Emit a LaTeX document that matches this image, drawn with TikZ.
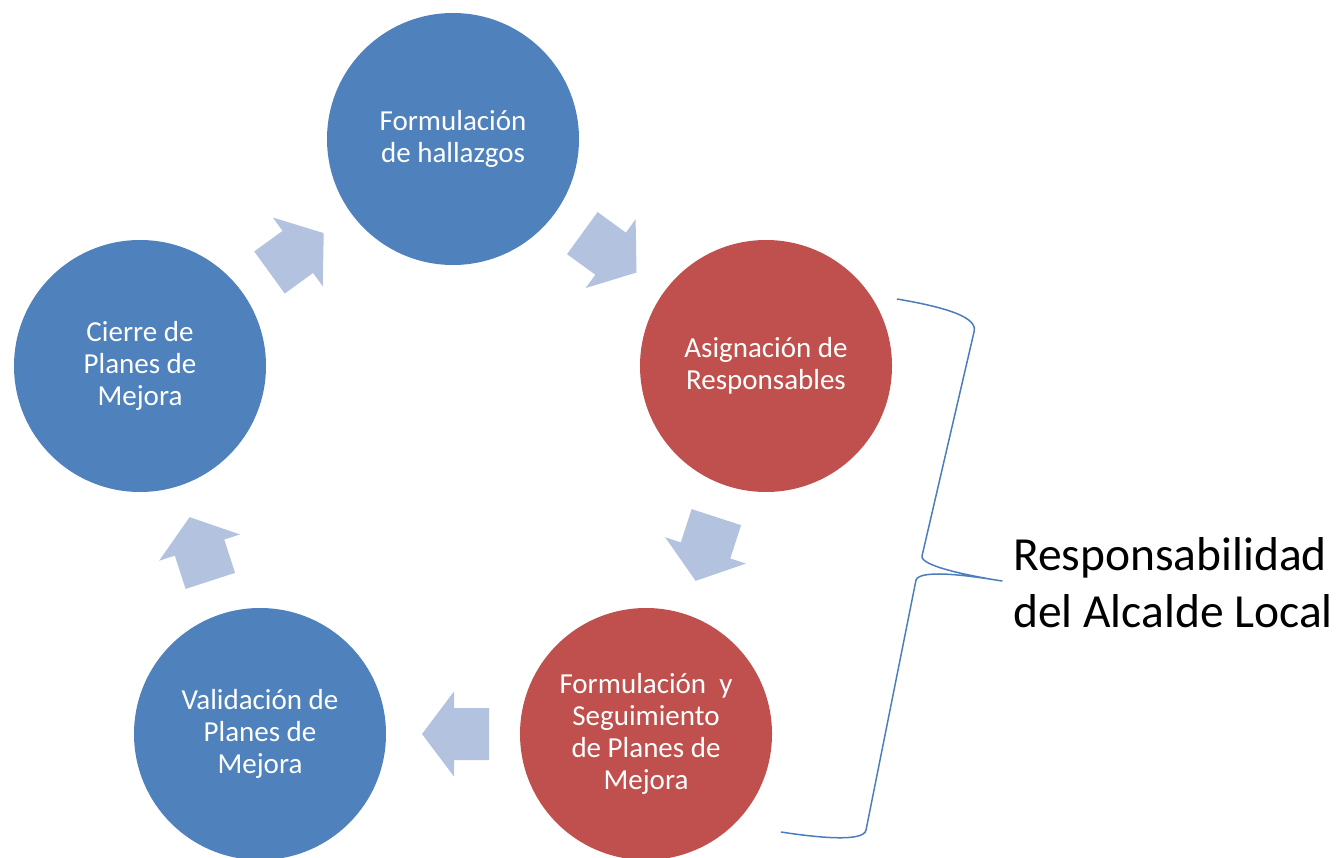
\documentclass[tikz,border=0pt]{standalone}
\usepackage{fontspec}
\setmainfont{Carlito}
\definecolor{cblue}{RGB}{79,129,189}
\definecolor{cred}{RGB}{192,80,77}
\definecolor{carrow}{RGB}{179,194,222}
\definecolor{cbrace}{RGB}{74,126,187}
\begin{document}
\begin{tikzpicture}[x=1pt,y=-1pt,
  stage/.style={circle,minimum size=252pt,inner sep=0pt,text=white,align=center,
    font=\fontsize{29}{32}\selectfont},
  bluestage/.style={stage,fill=cblue},
  redstage/.style={stage,fill=cred},
  cyclearrow/.pic={\fill[carrow] (-33.5,-26) -- (1.5,-26) -- (1.5,-42.5) -- (33.5,0)
      -- (1.5,42.5) -- (1.5,26) -- (-33.5,26) -- cycle;},
  bracestyle/.style={draw=cbrace,line width=1.5pt,line join=round}]
\useasboundingbox (0,0) rectangle (1337,858);
\fill[white] (0,0) rectangle (1337,858);
\node[bluestage] (top) at (453,139) {Formulación\\de hallazgos};
\node[redstage] (right) at (766,366) {Asignación de\\Responsables};
\node[redstage] (botr) at (646,734) {Formulación\ \ y\\Seguimiento\\de Planes de\\Mejora};
\node[bluestage] (botl) at (260,734) {Validación de\\Planes de\\Mejora};
\node[bluestage] (left) at (140,366) {Cierre de\\Planes de\\Mejora};
\pic[rotate=-36] at (609.4,252.8) {cyclearrow};
\pic[rotate=-108] at (706,549) {cyclearrow};
\pic[rotate=180] at (455.5,734) {cyclearrow};
\pic[rotate=108] at (200,549) {cyclearrow};
\pic[rotate=36] at (296.6,252.8) {cyclearrow};
\coordinate (bt) at (897,299);
\coordinate (bb) at (781,832);
\coordinate (tip) at (1002,581);
\draw[bracestyle] (bt) .. controls (950,308) and (978,318) .. (974,332) -- (922,556)
  .. controls (920,566) and (970,576) .. (tip)
  .. controls (960,574) and (920,570) .. (916,580) -- (866,830)
  .. controls (864,842) and (820,838) .. (bb);
\node[anchor=base west,align=left,inner sep=0pt,font=\fontsize{47.5}{57}\selectfont] (resp)
  at (1013,627) {Responsabilidad\\del Alcalde Local};
\end{tikzpicture}
\end{document}
